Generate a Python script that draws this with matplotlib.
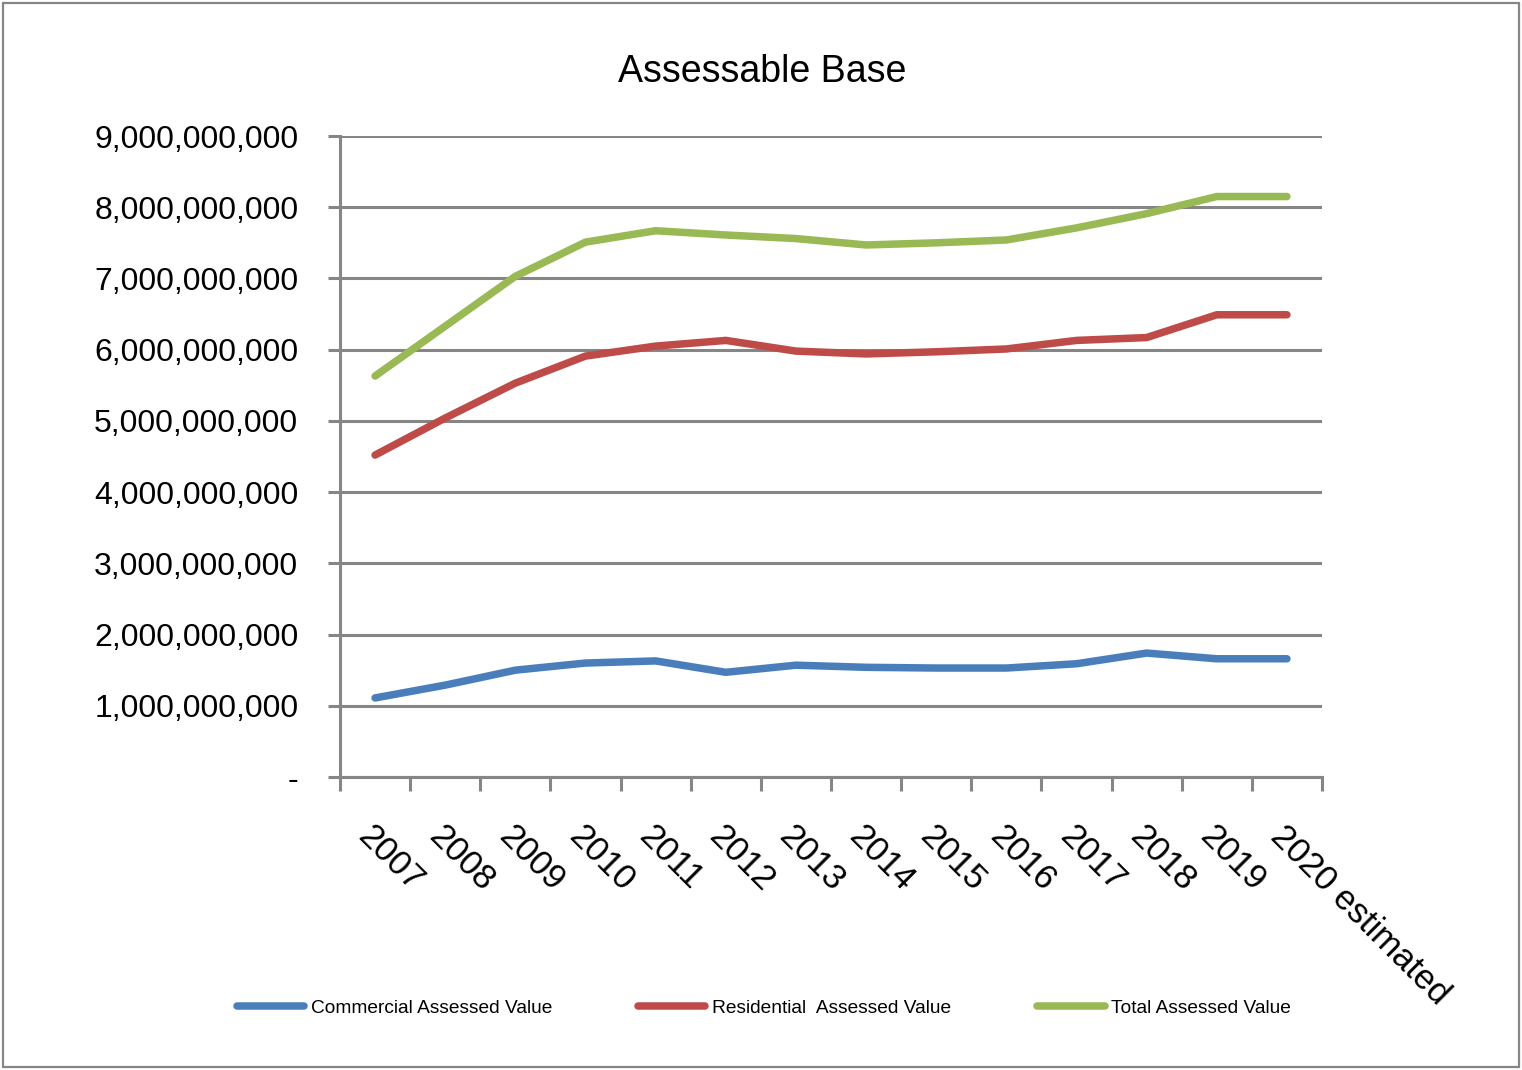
import matplotlib
matplotlib.use('Agg')
import matplotlib.pyplot as plt
from matplotlib.patches import Rectangle
from matplotlib.ticker import FuncFormatter, FixedLocator

plt.rcParams['font.family'] = ['Liberation Sans', 'DejaVu Sans']

years = ['2007', '2008', '2009', '2010', '2011', '2012', '2013', '2014',
         '2015', '2016', '2017', '2018', '2019', '2020 estimated']

commercial = [1.11e9, 1.29e9, 1.50e9, 1.60e9, 1.63e9, 1.47e9, 1.57e9,
              1.54e9, 1.53e9, 1.53e9, 1.59e9, 1.74e9, 1.66e9, 1.66e9]
residential = [4.52e9, 5.04e9, 5.53e9, 5.91e9, 6.05e9, 6.13e9, 5.98e9,
               5.94e9, 5.97e9, 6.01e9, 6.13e9, 6.17e9, 6.49e9, 6.49e9]
total = [5.63e9, 6.33e9, 7.03e9, 7.51e9, 7.67e9, 7.61e9, 7.56e9,
         7.47e9, 7.50e9, 7.54e9, 7.71e9, 7.91e9, 8.15e9, 8.15e9]

series_names = ['Commercial Assessed Value', 'Residential  Assessed Value',
                'Total Assessed Value']
colors = ['#4A7EBB', '#BE4B48', '#98B954']
grid_color = '#868686'

fig = plt.figure(figsize=(15.22, 10.70), dpi=100)
ax = fig.add_axes([340 / 1522, 1 - 777 / 1070, 982 / 1522, 641 / 1070])

x = range(len(years))
for vals, name, c in zip([commercial, residential, total], series_names, colors):
    ax.plot(x, vals, color=c, lw=5.4, solid_capstyle='round',
            solid_joinstyle='round', label=name, zorder=3)

ax.set_xlim(-0.5, len(years) - 0.5)
ax.set_ylim(0, 9e9)
ax.set_yticks([i * 1e9 for i in range(10)])
ax.yaxis.set_major_formatter(FuncFormatter(lambda v, p: '-' if v == 0 else f'{v:,.0f}'))
ax.grid(axis='y', color=grid_color, lw=2.2, zorder=1)
ax.tick_params(axis='y', length=9, width=2.2, color=grid_color, pad=21,
               labelsize=23)

# category ticks sit between the years, labels at the centres
ax.set_xticks(list(x))
ax.set_xticklabels(years, rotation=-45, ha='left', va='top',
                   rotation_mode='anchor', fontsize=25)
ax.xaxis.set_minor_locator(FixedLocator([i - 0.5 for i in range(len(years) + 1)]))
ax.tick_params(axis='x', which='major', length=0, pad=31)
ax.tick_params(axis='x', which='minor', length=10, width=2.2, color=grid_color)

for s in ['top', 'right']:
    ax.spines[s].set_visible(False)
for s in ['left', 'bottom']:
    ax.spines[s].set_color(grid_color)
    ax.spines[s].set_linewidth(2.2)

fig.text(762 / 1522, 1 - 72 / 1070, 'Assessable Base', ha='center', va='center',
         fontsize=27)

fig.legend(loc='center', bbox_to_anchor=(764 / 1522, 1 - 1008 / 1070), ncol=3,
           frameon=False, fontsize=13.8, handlelength=3.5, handletextpad=0.35,
           columnspacing=4.5)

fig.patches.append(Rectangle((3 / 1522, 3 / 1070), 1516 / 1522, 1064 / 1070,
                             transform=fig.transFigure, fill=False,
                             edgecolor=grid_color, lw=1.6))

fig.savefig('out.png', dpi=100)
